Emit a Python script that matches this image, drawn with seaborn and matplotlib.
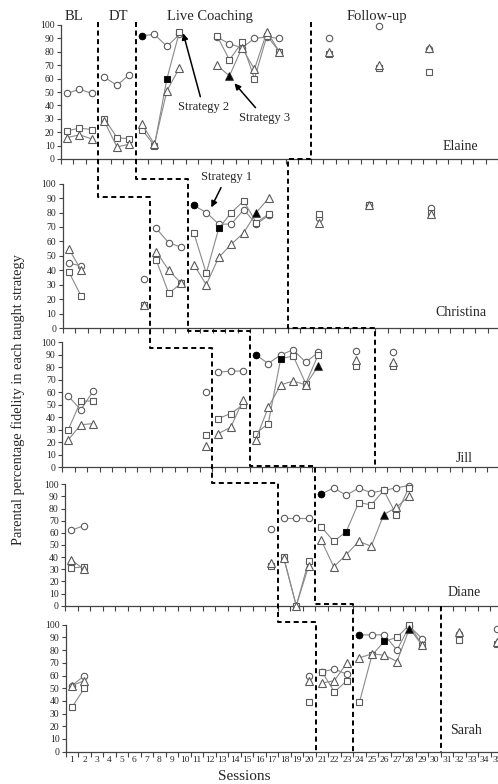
import numpy as np
import pandas as pd
import seaborn as sns
import matplotlib.pyplot as plt
from matplotlib.lines import Line2D

# ---------------- data ----------------
names = ["Elaine", "Christina", "Jill", "Diane", "Sarah"]

elaine_sessions = [1, 2, 3, 4, 5, 6, 7, 8, 9, 10, 13, 14, 15, 16, 17, 18, 22, 26, 30]
elaine_circle = [49, 52, 49, 61, 55, 63, 92, 93, 84, 93, 91, 86, 83, 90, 91, 90, 90, 99, 82]
elaine_square = [21, 23, 22, 30, 16, 15, 22, 10, 60, 95, 92, 74, 87, 60, 92, 80, 78, 68, 65]
elaine_triangle = [16, 18, 15, 28, 9, 11, 26, 11, 51, 68, 70, 62, 83, 67, 95, 80, 80, 70, 83]

christina_sessions = [1, 2, 7, 8, 9, 10, 11, 12, 13, 14, 15, 16, 17, 21, 25, 30]
christina_circle = [45, 43, 34, 69, 59, 56, 85, 80, 72, 72, 82, 72, 78, 76, 85, 83]
christina_square = [39, 22, 16, 47, 24, 31, 66, 38, 69, 80, 88, 73, 79, 79, 85, 80]
christina_triangle = [55, 40, 16, 53, 40, 31, 44, 30, 49, 58, 66, 80, 90, 73, 85, 79]

jill_sessions = [1, 2, 3, 12, 13, 14, 15, 16, 17, 18, 19, 20, 21, 24, 27]
jill_circle = [57, 46, 61, 60, 76, 77, 77, 90, 83, 90, 94, 84, 92, 93, 92]
jill_square = [30, 53, 53, 26, 39, 43, 50, 27, 35, 87, 89, 67, 90, 81, 81]
jill_triangle = [22, 34, 35, 17, 27, 32, 54, 22, 48, 66, 69, 66, 81, 86, 84]

diane_sessions = [1, 2, 17, 18, 19, 20, 21, 22, 23, 24, 25, 26, 27, 28]
diane_circle = [62, 66, 63, 72, 72, 72, 92, 97, 91, 97, 93, 95, 97, 99]
diane_square = [31, 32, 33, 40, 0, 37, 65, 53, 61, 85, 83, 95, 75, 97]
diane_triangle = [38, 30, 35, 39, 0, 33, 54, 32, 42, 53, 49, 75, 81, 90]

sarah_sessions = [1, 2, 20, 21, 22, 23, 24, 25, 26, 27, 28, 29, 32, 35]
sarah_circle = [52, 60, 60, 63, 65, 61, 92, 92, 92, 80, 99, 89, 93, 97]
sarah_square = [35, 50, 39, 63, 47, 56, 39, 76, 87, 90, 100, 84, 88, 85]
sarah_triangle = [52, 56, 56, 54, 56, 70, 74, 77, 76, 71, 97, 84, 94, 86]

# phase changes: BL->DT, DT->Live Coaching, Live Coaching->Follow-up
elaine_phases = [3.5, 6.5, 20.5]
christina_phases = [7.5, 10.5, 18.5]
jill_phases = [12.5, 15.5, 25.5]
diane_phases = [17.5, 20.5, 30.5]
sarah_phases = [20.5, 23.5, 30.5]

# session where coaching of strategy 1 / 2 / 3 began (filled markers)
elaine_start = [7, 9, 14]
christina_start = [11, 13, 16]
jill_start = [16, 18, 21]
diane_start = [21, 23, 26]
sarah_start = [24, 26, 28]

strategies = ["Strategy 1", "Strategy 2", "Strategy 3"]
markers = {"Strategy 1": "o", "Strategy 2": "s", "Strategy 3": "^"}

participants = {
    "Elaine": (elaine_sessions, [elaine_circle, elaine_square, elaine_triangle], elaine_phases, elaine_start),
    "Christina": (christina_sessions, [christina_circle, christina_square, christina_triangle], christina_phases, christina_start),
    "Jill": (jill_sessions, [jill_circle, jill_square, jill_triangle], jill_phases, jill_start),
    "Diane": (diane_sessions, [diane_circle, diane_square, diane_triangle], diane_phases, diane_start),
    "Sarah": (sarah_sessions, [sarah_circle, sarah_square, sarah_triangle], sarah_phases, sarah_start),
}

# long table; segments break at phase changes and at skipped sessions
frames = []
for name, (sess, series, phases, start) in participants.items():
    s = np.array(sess)
    phase = np.searchsorted(phases, s)
    seg = np.cumsum(np.r_[True, (np.diff(phase) != 0) | (np.diff(s) > 1)])
    for strat, vals in zip(strategies, series):
        frames.append(pd.DataFrame({"participant": name, "session": s, "value": vals,
                                    "strategy": strat, "segment": seg,
                                    "filled": s == start[strategies.index(strat)]}))
df = pd.concat(frames, ignore_index=True)

# ---------------- figure ----------------
sns.set_theme(style="white")
plt.rcParams["font.family"] = ["Liberation Serif", "DejaVu Serif"]

W, H = 498, 784
fig = plt.figure(figsize=(W / 100, H / 100), dpi=100)

# (left, top, bottom) of each panel in pixels
panel_px = [(60.7, 25, 159), (62.5, 183.7, 328), (62, 342.3, 467.3),
            (65, 484.3, 605.7), (65.7, 624.7, 751.7)]
axes = []
for left, top, bottom in panel_px:
    axes.append(fig.add_axes([left / W, 1 - bottom / H, 437.5 / W, (bottom - top) / H]))

for i, (ax, name) in enumerate(zip(axes, names)):
    d = df[df.participant == name]
    for strat in strategies:
        sub = d[d.strategy == strat]
        sns.lineplot(data=sub, x="session", y="value", units="segment", estimator=None,
                     ax=ax, color="#8a8a8a", lw=0.8, marker=markers[strat],
                     ms=5.2 if strat == "Strategy 3" else 4.6, mfc="white",
                     mec="#5a5a5a", mew=0.8, legend=False, clip_on=False, zorder=3)
        f = sub[sub.filled]
        sns.scatterplot(x=f.session, y=f.value, marker=markers[strat], color="black",
                        edgecolor="black", s=24, ax=ax, zorder=5, legend=False, clip_on=False)

    ax.set_xlim(0.5, 35.5)
    ax.set_ylim(0, 100)
    ax.set_yticks(range(0, 101, 10))
    ax.set_xticks(range(1, 36))
    ax.set_xticks(np.arange(0.5, 36, 1), minor=True)
    ax.tick_params(axis="y", left=True, direction="out", length=3, width=0.8,
                   labelsize=7, pad=1.5, color="#444444")
    ax.tick_params(axis="x", which="major", bottom=True, length=0, labelsize=6.8, pad=3,
                   labelbottom=(i == 4))
    ax.tick_params(axis="x", which="minor", bottom=True, direction="out", length=3.5,
                   width=0.8, color="#444444")
    for sp in ["top", "right"]:
        ax.spines[sp].set_visible(False)
    for sp in ["left", "bottom"]:
        ax.spines[sp].set_color("#444444")
        ax.spines[sp].set_linewidth(0.9)
    ax.set_xlabel("")
    ax.set_ylabel("")
    ax.patch.set_alpha(0)

# participant names
name_pos = [(32.5, 9), (32.4, 11), (32.7, 7.4), (32.4, 10.5), (32.5, 17)]
for ax, name, (x, y) in zip(axes, names, name_pos):
    ax.text(x, y, name, ha="center", va="center", fontsize=10)

# phase titles
for label, x in [("BL", 1.56), ("DT", 5.08), ("Live Coaching", 12.4), ("Follow-up", 25.8)]:
    axes[0].text(x, 106.3, label, ha="center", va="center", fontsize=10.5, clip_on=False)

arrow = dict(arrowstyle="-|>", color="black", lw=1.1, mutation_scale=9, shrinkA=1, shrinkB=0)
axes[0].annotate("Strategy 2", xy=(10.3, 93.8), xytext=(11.9, 38.6), ha="center",
                 va="center", fontsize=9, arrowprops=arrow, annotation_clip=False)
axes[0].annotate("Strategy 3", xy=(14.4, 56.5), xytext=(16.8, 30.6), ha="center",
                 va="center", fontsize=9, arrowprops=arrow, annotation_clip=False)
axes[1].annotate("Strategy 1", xy=(12.4, 83.6), xytext=(13.6, 104.6), ha="center",
                 va="center", fontsize=9, arrowprops=arrow, annotation_clip=False)

# ---------------- staircase phase-change lines ----------------
inv = fig.transFigure.inverted()


def fxy(xp, s, yp, v):
    x = axes[xp].transData.transform((s, 0))[0]
    y = axes[yp].transData.transform((0, v))[1]
    return inv.transform((x, y))


bounds = [participants[n][2] for n in names]
lineA = [(0, bounds[0][0], 0, 102.5), (0, bounds[0][0], 1, 91), (1, bounds[1][0], 1, 91),
         (1, bounds[1][0], 2, 95.4), (2, bounds[2][0], 2, 95.4), (2, bounds[2][0], 3, 101),
         (3, bounds[3][0], 3, 101), (3, bounds[3][0], 4, 102.3), (4, bounds[4][0], 4, 102.3),
         (4, bounds[4][0], 4, 0)]
lineB = [(0, bounds[0][1], 0, 102.5), (0, bounds[0][1], 1, 103.3), (1, bounds[1][1], 1, 103.3),
         (1, bounds[1][1], 2, 109), (2, bounds[2][1], 2, 109), (2, bounds[2][1], 2, 1),
         (3, bounds[3][1], 2, 1), (3, bounds[3][1], 3, 1.5), (4, bounds[4][1], 3, 1.5),
         (4, bounds[4][1], 4, 0)]
lineC1 = [(0, bounds[0][2], 0, 102.5), (0, bounds[0][2], 0, 0), (1, bounds[1][2], 0, 0),
          (1, bounds[1][2], 1, 0), (2, bounds[2][2], 1, 0), (2, bounds[2][2], 2, 0)]
lineC2 = [(4, bounds[4][2], 3, 0), (4, bounds[4][2], 4, 0)]

for verts in [lineA, lineB, lineC1, lineC2]:
    pts = np.array([fxy(*v) for v in verts])
    fig.add_artist(Line2D(pts[:, 0], pts[:, 1], transform=fig.transFigure, color="black",
                          lw=1.4, linestyle=(0, (2.6, 1.8)), zorder=4))

fig.text(244 / W, 1 - 777 / H, "Sessions", ha="center", va="center", fontsize=11)
fig.text(18 / W, 1 - 400 / H, "Parental percentage fidelity in each taught strategy",
         rotation=90, ha="center", va="center", fontsize=10.4)

fig.savefig("out.png", dpi=100)
